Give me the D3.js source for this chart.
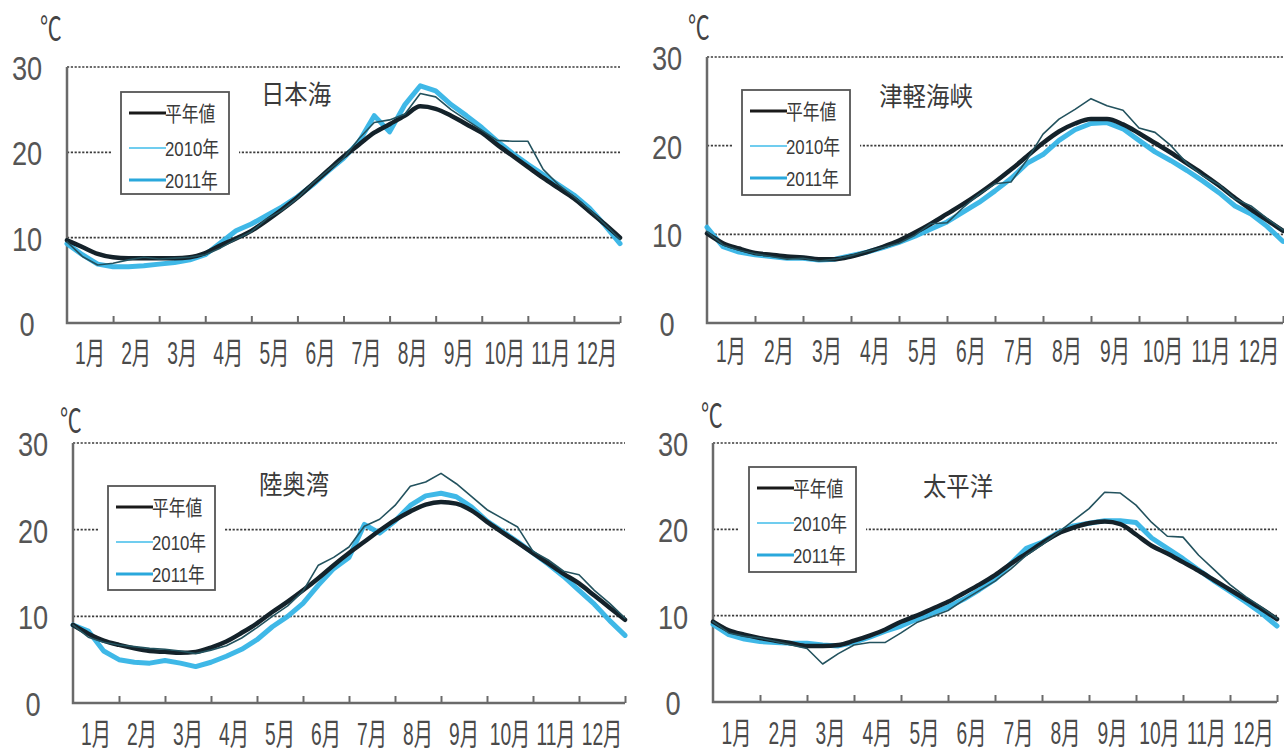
<!DOCTYPE html>
<html>
<head>
<meta charset="utf-8">
<script src="https://cdn.jsdelivr.net/npm/d3@7/dist/d3.min.js"></script>
<style>
  html, body { margin: 0; padding: 0; background: #fff; }
  text { font-family: "Liberation Sans", "Noto Sans CJK JP", sans-serif; fill: #4a4a4a; }
</style>
</head>
<body>
<svg id="chart" width="1284" height="753"></svg>
<script>
// data: ten-day steps through the year (0 = 1 Jan, 12 = 31 Dec)

let steps = d3.range(37).map(k => k / 3);

let monthLabels = ["1月", "2月", "3月", "4月", "5月", "6月", "7月", "8月", "9月", "10月", "11月", "12月"];
let yTicks = [0, 10, 20, 30];
let seriesNames = ["平年値", "2010年", "2011年"];
let seaNames = ["日本海", "津軽海峡", "陸奥湾", "太平洋"];

// 日本海
let japanSeaNormal = [9.7, 8.9, 8.1, 7.7, 7.6, 7.6, 7.6, 7.6, 7.7, 8.2, 9.1, 9.9, 10.8, 12.0, 13.3, 14.7, 16.3, 17.9, 19.5, 20.9, 22.3, 23.3, 24.3, 25.4, 25.1, 24.3, 23.3, 22.3, 20.9, 19.6, 18.3, 17.0, 15.8, 14.6, 13.1, 11.6, 10.0];
let japanSea2010 = [9.5, 7.8, 6.8, 7.0, 7.4, 7.7, 7.5, 7.6, 7.7, 8.0, 8.8, 9.8, 10.7, 12.2, 13.2, 14.6, 16.4, 17.9, 19.3, 21.6, 23.5, 23.8, 24.5, 26.9, 26.5, 25.0, 23.8, 22.6, 21.4, 21.3, 21.3, 18.0, 16.2, 14.8, 13.3, 11.6, 9.8];
let japanSea2011 = [9.3, 8.0, 6.9, 6.6, 6.6, 6.7, 6.9, 7.1, 7.4, 8.0, 9.4, 10.8, 11.6, 12.6, 13.6, 14.8, 16.2, 17.8, 19.3, 21.2, 24.3, 22.4, 25.6, 27.8, 27.2, 25.6, 24.3, 22.9, 21.3, 19.9, 18.6, 17.4, 16.2, 15.0, 13.5, 11.5, 9.3];

// 津軽海峡
let tsugaruNormal = [10.1, 9.0, 8.4, 7.9, 7.7, 7.5, 7.4, 7.2, 7.2, 7.5, 8.0, 8.6, 9.3, 10.2, 11.2, 12.3, 13.4, 14.6, 15.9, 17.3, 18.8, 20.3, 21.6, 22.5, 23.0, 23.0, 22.4, 21.4, 20.3, 19.2, 18.0, 16.8, 15.5, 14.1, 12.8, 11.6, 10.4];
let tsugaru2010 = [10.3, 8.8, 8.2, 7.8, 7.5, 7.2, 7.3, 7.0, 7.2, 7.6, 8.1, 8.5, 9.0, 9.9, 11.2, 11.3, 13.0, 14.5, 15.7, 15.9, 18.4, 21.3, 23.0, 24.1, 25.3, 24.5, 24.0, 22.0, 21.5, 20.0, 18.0, 16.6, 15.6, 14.0, 13.2, 11.8, 10.5];
let tsugaru2011 = [10.8, 8.6, 8.0, 7.7, 7.5, 7.3, 7.3, 7.1, 7.2, 7.6, 8.0, 8.5, 9.1, 9.8, 10.6, 11.4, 12.5, 13.6, 14.9, 16.3, 18.0, 19.0, 20.6, 21.8, 22.5, 22.6, 21.9, 20.6, 19.3, 18.3, 17.2, 16.0, 14.7, 13.2, 12.3, 10.9, 9.2];

// 陸奥湾
let mutsuNormal = [9.0, 8.0, 7.2, 6.7, 6.3, 6.0, 5.9, 5.8, 5.9, 6.4, 7.1, 8.1, 9.2, 10.5, 11.7, 13.0, 14.4, 15.9, 17.3, 18.6, 19.9, 21.1, 22.1, 22.9, 23.2, 23.0, 22.2, 20.9, 19.7, 18.5, 17.3, 16.1, 14.9, 13.8, 12.4, 11.0, 9.6];
let mutsu2010 = [9.0, 7.6, 7.0, 6.7, 6.5, 6.3, 6.2, 6.0, 5.7, 6.1, 6.6, 7.5, 8.7, 10.0, 11.2, 12.9, 15.9, 16.8, 18.0, 20.4, 21.2, 22.8, 25.0, 25.5, 26.5, 25.3, 23.8, 22.3, 21.3, 20.3, 17.5, 16.5, 15.2, 14.8, 13.0, 11.5, 9.8];
let mutsu2011 = [9.0, 8.3, 6.0, 5.0, 4.7, 4.6, 4.9, 4.6, 4.2, 4.7, 5.4, 6.2, 7.3, 8.8, 10.0, 11.5, 13.6, 15.5, 16.8, 20.6, 19.6, 21.0, 22.8, 23.9, 24.2, 23.8, 22.6, 21.0, 19.8, 18.6, 17.3, 16.0, 14.6, 13.0, 11.4, 9.5, 7.8];

// 太平洋
let pacificNormal = [9.3, 8.3, 7.8, 7.4, 7.1, 6.8, 6.5, 6.5, 6.6, 7.1, 7.7, 8.4, 9.3, 10.0, 10.8, 11.6, 12.6, 13.6, 14.7, 16.0, 17.2, 18.4, 19.5, 20.2, 20.7, 20.9, 20.6, 19.4, 18.1, 17.2, 16.2, 15.2, 14.1, 13.0, 11.9, 10.8, 9.6];
let pacific2010 = [9.3, 8.0, 7.6, 7.4, 7.0, 6.6, 6.2, 4.4, 5.6, 6.6, 6.9, 6.9, 8.0, 9.2, 9.9, 10.6, 11.8, 12.9, 14.0, 15.4, 17.0, 18.2, 19.6, 21.0, 22.4, 24.3, 24.2, 22.8, 20.8, 19.2, 19.1, 17.0, 15.3, 13.6, 12.2, 11.0, 9.7];
let pacific2011 = [9.0, 7.8, 7.3, 7.0, 6.9, 6.8, 6.8, 6.6, 6.5, 6.9, 7.5, 8.2, 8.8, 9.6, 10.3, 11.0, 11.9, 13.0, 14.2, 16.0, 17.8, 18.5, 19.6, 20.4, 20.7, 21.0, 21.0, 20.8, 19.0, 17.8, 16.6, 15.3, 14.0, 12.8, 11.6, 10.3, 8.8];

let seaSeries = [
  [japanSeaNormal, japanSea2010, japanSea2011],
  [tsugaruNormal, tsugaru2010, tsugaru2011],
  [mutsuNormal, mutsu2010, mutsu2011],
  [pacificNormal, pacific2010, pacific2011]
];

// panel layout (pixels)

let panels = [
  {x0: 67,  x1: 620,  top: 67,  bottom: 323, title: [296, 104], unit: [51, 40],  yLabelX: 27,  monthY: 364, legend: [121, 92, 108, 102]},
  {x0: 707, x1: 1283, top: 57,  bottom: 323, title: [926, 106], unit: [699, 39], yLabelX: 667, monthY: 362, legend: [742, 90, 108, 105]},
  {x0: 73,  x1: 625,  top: 443, bottom: 703, title: [294, 494], unit: [71, 432], yLabelX: 33,  monthY: 745, legend: [108, 486, 107, 104]},
  {x0: 713, x1: 1277, top: 443, bottom: 702, title: [958, 496], unit: [712, 427], yLabelX: 673, monthY: 744, legend: [749, 467, 107, 105]}
];

// line styles: normal, 2010, 2011
let lineColors = ["#14222a", "#23525e", "#35b4e6"];
let lineWidths = [4.5, 1.6, 5];
let legendColors = ["#1a1a1a", "#70cdef", "#2aa8dc"];
let legendWidths = [3, 2, 3];
let drawOrder = [2, 0, 1];

let svg = d3.select("#chart");

// squeezed text, the source type is condensed
function squeezed(g, x, y, txt, size, sx, anchor) {
  return g.append("text")
      .attr("transform", `translate(${x},${y}) scale(${sx},1)`)
      .attr("text-anchor", anchor || "middle")
      .style("font-size", size + "px")
      .text(txt);
}

panels.forEach(function(p, i) {
  let g = svg.append("g");

  let x = d3.scaleLinear().domain([0, 12]).range([p.x0, p.x1]);
  let y = d3.scaleLinear().domain([0, 30]).range([p.bottom, p.top]);
  let lb = p.legend;

  // dotted grid lines
  g.selectAll(".grid")
    .data(yTicks.filter(d => d > 0))
    .join("line")
      .attr("class", "grid")
      .attr("x1", p.x0)
      .attr("x2", p.x1)
      .attr("y1", d => y(d))
      .attr("y2", d => y(d))
      .attr("stroke", "#3c3c3c")
      .attr("stroke-width", 1.6)
      .attr("stroke-dasharray", "2.2,1.6");

  // white patch behind the legend box
  g.append("rect")
      .attr("x", lb[0] - 10)
      .attr("y", lb[1] - 4)
      .attr("width", lb[2] + 20)
      .attr("height", lb[3] + 8)
      .attr("fill", "#fff");

  // y tick labels
  g.selectAll(".ylab")
    .data(yTicks)
    .join("text")
      .attr("class", "ylab")
      .attr("transform", d => `translate(${p.yLabelX},${y(d) + 13}) scale(0.8,1)`)
      .attr("text-anchor", "middle")
      .style("font-size", "34px")
      .style("fill", "#555")
      .text(d => d);

  squeezed(g, p.unit[0], p.unit[1], "℃", 32, 0.68).style("fill", "#444");

  // axes: left and bottom lines, ticks at month boundaries
  g.append("path")
      .attr("d", `M${p.x0},${p.top}V${p.bottom}H${p.x1}`)
      .attr("fill", "none")
      .attr("stroke", "#6a6a6a")
      .attr("stroke-width", 2.5);

  let xAxis = d3.axisBottom(x)
      .tickValues(d3.range(1, 13))
      .tickSize(-7)
      .tickFormat("");

  g.append("g")
      .attr("transform", `translate(0,${p.bottom})`)
      .call(xAxis)
      .call(a => a.select(".domain").remove())
      .call(a => a.selectAll("line").attr("stroke", "#6a6a6a").attr("stroke-width", 2));

  // month labels centred in each month
  g.selectAll(".mlab")
    .data(monthLabels)
    .join("text")
      .attr("class", "mlab")
      .attr("transform", (d, k) => `translate(${x(k + 0.5)},${p.monthY}) scale(0.62,1)`)
      .attr("text-anchor", "middle")
      .style("font-size", "31px")
      .style("fill", "#4a4a4a")
      .text(d => d);

  // series lines
  let series = seaSeries[i];
  drawOrder.forEach(function(s) {
    let line = d3.line()
        .x((d, k) => x(steps[k]))
        .y(d => y(d))
        .curve(s === 0 ? d3.curveMonotoneX : d3.curveLinear);

    g.append("path")
        .datum(series[s])
        .attr("d", line)
        .attr("fill", "none")
        .attr("stroke", lineColors[s])
        .attr("stroke-width", lineWidths[s])
        .attr("stroke-linejoin", "round")
        .attr("stroke-linecap", "round")
        .attr("opacity", s === 2 ? 0.95 : 1);
  });

  // legend box
  g.append("rect")
      .attr("x", lb[0])
      .attr("y", lb[1])
      .attr("width", lb[2])
      .attr("height", lb[3])
      .attr("fill", "#fff")
      .attr("stroke", "#555")
      .attr("stroke-width", 1.8);

  let rows = [21, 56, 88];
  seriesNames.forEach(function(name, s) {
    g.append("line")
        .attr("x1", lb[0] + 8)
        .attr("x2", lb[0] + 45)
        .attr("y1", lb[1] + rows[s])
        .attr("y2", lb[1] + rows[s])
        .attr("stroke", legendColors[s])
        .attr("stroke-width", legendWidths[s]);

    squeezed(g, lb[0] + 44, lb[1] + rows[s] + 8, name, 21, 0.8, "start")
        .style("fill", "#3a3a3a");
  });

  // panel title
  squeezed(g, p.title[0], p.title[1], seaNames[i], 26, 0.9).style("fill", "#3a3a3a");
});
</script>
</body>
</html>
